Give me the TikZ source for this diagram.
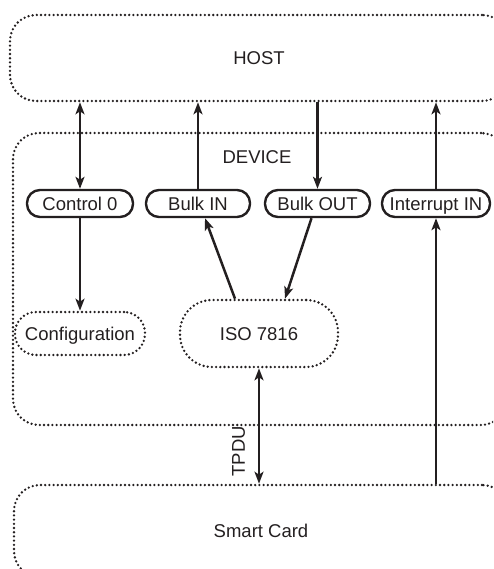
\documentclass[tikz,border=0pt]{standalone}
\usepackage{fontspec}
\setmainfont{Liberation Sans}
\usetikzlibrary{arrows.meta}
\definecolor{ink}{HTML}{231F20}
\tikzset{
  dotbox/.style={draw=ink, line width=2.6pt, dash pattern=on 0pt off 4.2pt, line cap=round, inner sep=0pt},
  epbox/.style={draw=ink, line width=2.4pt, rounded corners=13pt, minimum width=106pt, minimum height=27pt, inner sep=0pt},
  tip/.tip={Stealth[length=12pt,width=9pt,inset=3pt]},
  arr/.style={draw=ink, line width=2.5pt, -tip},
  darr/.style={draw=ink, line width=2.5pt, tip-tip},
  lbl/.style={text=ink, font=\fontsize{18.5}{22}\selectfont, inner sep=0pt, text height=13.3pt, text depth=0pt}
}
\begin{document}
\begin{tikzpicture}[x=1pt,y=-1pt]
\useasboundingbox (0,0) rectangle (493,569);
\clip (0,0) rectangle (493,569);
% large boxes
\node[dotbox, rounded corners=26pt, minimum width=498pt, minimum height=86pt, lbl] (host) at (259,58) {HOST};
\node[dotbox, rounded corners=26pt, minimum width=494pt, minimum height=292pt] (device) at (260,279) {};
\node[lbl] (devlbl) at (257,157) {DEVICE};
\node[dotbox, rounded corners=26pt, minimum width=494pt, minimum height=92pt, lbl] (card) at (261,531) {Smart Card};
% endpoints
\node[epbox, lbl] (ctrl) at (80,203.5) {Control 0};
\node[epbox, lbl, minimum width=104pt] (bulkin) at (198,203.5) {Bulk IN};
\node[epbox, lbl, minimum width=105pt] (bulkout) at (317.5,203.5) {Bulk OUT};
\node[epbox, lbl, minimum width=108pt] (intr) at (436,203.5) {Interrupt IN};
% inner functions
\node[dotbox, rounded corners=21pt, minimum width=130pt, minimum height=43pt, lbl] (config) at (80,333.5) {Configuration};
\node[dotbox, rounded corners=32pt, minimum width=158pt, minimum height=67pt, lbl] (iso) at (259,333.5) {ISO 7816};
% connectors
\draw[darr] (ctrl.north) -- (ctrl.north |- host.south);
\draw[arr] (bulkin.north) -- (bulkin.north |- host.south);
\draw[arr] (bulkout.north |- host.south) -- (bulkout.north);
\draw[arr] (intr.north) -- (intr.north |- host.south);
\draw[arr] (ctrl.south) -- (config.north);
\draw[arr] ([xshift=-24pt]iso.north) -- ([xshift=7pt]bulkin.south);
\draw[arr] ([xshift=-6pt]bulkout.south) -- ([xshift=26pt]iso.north);
\draw[darr] (iso.south) -- node[lbl, pos=0.72, rotate=90, anchor=south, yshift=13pt] {TPDU} (iso.south |- card.north);
\draw[arr] (intr.south |- card.north) -- (intr.south);
\end{tikzpicture}
\end{document}
